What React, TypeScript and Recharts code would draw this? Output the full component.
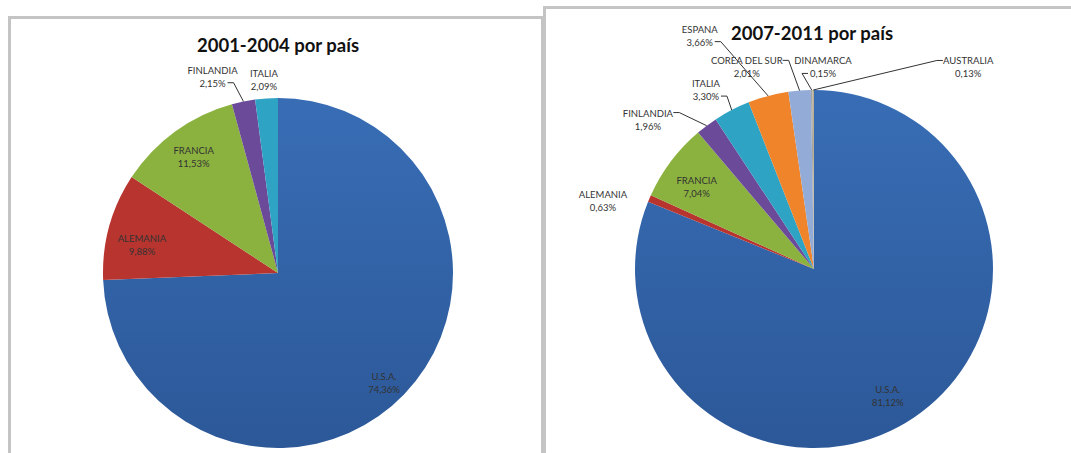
import { PieChart, Pie, Cell } from "recharts";

// 2001-2004
const LEFT_NAMES = ["U.S.A.", "ALEMANIA", "FRANCIA", "FINLANDIA", "ITALIA"];
const LEFT_VALUES = [74.36, 9.88, 11.53, 2.15, 2.09];

// 2007-2011
const RIGHT_NAMES = ["U.S.A.", "ALEMANIA", "FRANCIA", "FINLANDIA", "ITALIA", "ESPANA", "COREA DEL SUR", "DINAMARCA", "AUSTRALIA"];
const RIGHT_VALUES = [81.12, 0.63, 7.04, 1.96, 3.3, 3.66, 2.01, 0.15, 0.13];

const COLORS: Record<string, string> = {
  "U.S.A.": "url(#usaGrad)",
  ALEMANIA: "#B8342F",
  FRANCIA: "#8BB23F",
  FINLANDIA: "#6B4A9A",
  ITALIA: "#2FA3C3",
  ESPANA: "#F0842B",
  "COREA DEL SUR": "#93ABD7",
  DINAMARCA: "#A3A3A3",
  AUSTRALIA: "#B9AD92",
};

type Place = { k: number; da: number; lead?: { side: "L" | "R"; row: 0 | 1 } };

// label placement: radius factor + angle shift (deg) from slice middle
const LEFT_PLACE: Place[] = [
  { k: 0.873, da: -2.2 },
  { k: 0.795, da: 3.5 },
  { k: 0.82, da: 0 },
  { k: 1.185, da: 7, lead: { side: "R", row: 1 } },
  { k: 1.11, da: 0.4 },
];
const RIGHT_PLACE: Place[] = [
  { k: 0.82, da: -3.8 },
  { k: 1.24, da: 5.1 },
  { k: 0.8, da: 2 },
  { k: 1.25, da: 11.1, lead: { side: "R", row: 0 } },
  { k: 1.17, da: 3.7, lead: { side: "R", row: 1 } },
  { k: 1.454, da: 11.2, lead: { side: "R", row: 1 } },
  { k: 1.19, da: 13.75, lead: { side: "R", row: 0 } },
  { k: 1.13, da: -3.3, lead: { side: "L", row: 1 } },
  { k: 1.42, da: -37.6, lead: { side: "L", row: 0 } },
];

const FONT = "Lato, 'Open Sans', sans-serif";
const RAD = Math.PI / 180;
const fmt = (v: number) => v.toFixed(2).replace(".", ",") + "%";

function makeLabel(place: Place[]) {
  return (p: any) => {
    const pl = place[p.index];
    if (!pl) return null;
    const name = p.payload?.name ?? p.name;
    const pct = fmt(Number(p.value));
    const a = (p.midAngle + pl.da) * RAD;
    const r = p.outerRadius * pl.k;
    const x = p.cx + Math.cos(a) * r;
    const y = p.cy - Math.sin(a) * r;
    let line = null;
    if (pl.lead) {
      const txt = pl.lead.row === 0 ? name : pct;
      const half = txt.length * 2.6 + 2;
      const ly = y + (pl.lead.row === 0 ? -6.5 : 6.5);
      const dir = pl.lead.side === "R" ? 1 : -1;
      const sx = x + dir * half;
      const ex = sx + dir * 6;
      const m = p.midAngle * RAD;
      const px = p.cx + Math.cos(m) * p.outerRadius;
      const py = p.cy - Math.sin(m) * p.outerRadius;
      line = <polyline points={`${sx},${ly} ${ex},${ly} ${px},${py}`} fill="none" stroke="#333" strokeWidth={1} />;
    }
    return (
      <g key={`lbl-${p.index}`}>
        {line}
        <text textAnchor="middle" fontFamily={FONT} fontSize={9.5} fill="#333" dominantBaseline="central">
          <tspan x={x} y={y - 6.5}>{name}</tspan>
          <tspan x={x} y={y + 6.5}>{pct}</tspan>
        </text>
      </g>
    );
  };
}

function Defs() {
  return (
    <defs>
      <linearGradient id="usaGrad" x1="0" y1="0" x2="0" y2="1">
        <stop offset="0%" stopColor="#386DB5" />
        <stop offset="100%" stopColor="#2C5898" />
      </linearGradient>
    </defs>
  );
}

function CountryPie({ names, values, place, width, height, cx, cy, r }: {
  names: string[]; values: number[]; place: Place[];
  width: number; height: number; cx: number; cy: number; r: number;
}) {
  const data = names.map((n, i) => ({ name: n, value: values[i] }));
  return (
    <PieChart width={width} height={height} margin={{ top: 0, right: 0, bottom: 0, left: 0 }}>
      <Defs />
      <Pie
        data={data} dataKey="value" nameKey="name"
        cx={cx} cy={cy} outerRadius={r} startAngle={90} endAngle={-270}
        stroke="none" isAnimationActive={false}
        labelLine={false} label={makeLabel(place)}
      >
        {data.map((d) => <Cell key={d.name} fill={COLORS[d.name]} />)}
      </Pie>
    </PieChart>
  );
}

const titleStyle = {
  position: "absolute" as const, width: 240, textAlign: "center" as const,
  fontFamily: FONT, fontWeight: 700, fontSize: 18.5, lineHeight: "22px", color: "#111",
};

export default function App() {
  return (
    <div style={{ position: "absolute", left: 0, top: 0, width: 1071, height: 453, background: "#fff", overflow: "hidden" }}>
      {/* panel frames */}
      <div style={{
        position: "absolute", left: 8, top: 16, width: 536, height: 460,
        boxSizing: "border-box", border: "3px solid #C4C4C4",
      }} />
      <div style={{
        position: "absolute", left: 543, top: 6, width: 560, height: 470,
        boxSizing: "border-box", border: "3px solid #C4C4C4",
      }} />

      <div style={{ position: "absolute", left: 8, top: 16 }}>
        <CountryPie names={LEFT_NAMES} values={LEFT_VALUES} place={LEFT_PLACE}
          width={536} height={437} cx={270} cy={257} r={175} />
      </div>
      <div style={{ position: "absolute", left: 544, top: 6 }}>
        <CountryPie names={RIGHT_NAMES} values={RIGHT_VALUES} place={RIGHT_PLACE}
          width={527} height={447} cx={270} cy={263} r={179} />
      </div>

      <div style={{ ...titleStyle, left: 158, top: 34 }}>2001-2004 por país</div>
      <div style={{ ...titleStyle, left: 692, top: 22 }}>2007-2011 por país</div>
    </div>
  );
}
